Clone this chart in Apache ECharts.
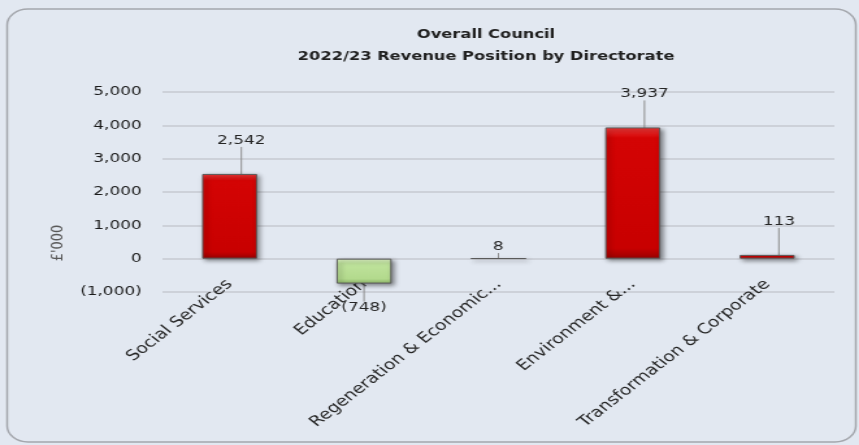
<!DOCTYPE html>
<html>
<head>
<meta charset="utf-8">
<script src="https://cdn.jsdelivr.net/npm/echarts@6/dist/echarts.min.js"></script>
<style>
  html, body { margin: 0; padding: 0; background: #e2e8f1; overflow: hidden; }
  /* the source picture is a stretched Excel chart, so draw narrow then stretch */
  #chart { width: 661px; height: 445px; transform: scaleX(1.2996); transform-origin: 0 0; }
</style>
</head>
<body>
<div id="chart"></div>
<script>
var categories = ['Social Services', 'Education', 'Regeneration & Economic...', 'Environment &...', 'Transformation & Corporate'];
var variance = [2542, -748, 8, 3937, 113];
var yTicks = { min: -1000, max: 5000, interval: 1000 };

var chartDom = document.getElementById('chart');
var myChart = echarts.init(chartDom);
var option;

function fmt(v) {
    var s = Math.abs(v).toString().replace(/\B(?=(\d{3})+(?!\d))/g, ',');
    return v < 0 ? '(' + s + ')' : s;
}

var redFill = new echarts.graphic.LinearGradient(0, 0, 0, 1, [
    { offset: 0, color: '#f03a3a' },
    { offset: 0.08, color: '#d40404' },
    { offset: 0.92, color: '#c80000' },
    { offset: 1, color: '#9a0000' }
]);
var greenFill = new echarts.graphic.LinearGradient(0, 0, 0, 1, [
    { offset: 0, color: '#dff5c6' },
    { offset: 0.2, color: '#bfe39c' },
    { offset: 0.8, color: '#b3da8d' },
    { offset: 1, color: '#8fb86a' }
]);

var barData = variance.map(function (v) {
    var item = {
        value: v,
        itemStyle: { color: v < 0 ? greenFill : redFill }
    };
    if (v < 0) {
        item.label = { position: 'bottom', distance: 18 };
    }
    return item;
});

option = {
    backgroundColor: '#e2e8f1',
    textStyle: { fontFamily: 'DejaVu Sans' },
    title: {
        text: 'Overall Council\n2022/23 Revenue Position by Directorate',
        left: 369,
        top: 19,
        textAlign: 'center',
        textStyle: { fontSize: 12.5, fontWeight: 'bold', color: '#1f1f1f', lineHeight: 22 }
    },
    graphic: [{
        type: 'rect',
        shape: { x: 5.5, y: 9, width: 653, height: 433, r: 16 },
        style: { fill: 'none', stroke: '#a4a7ad', lineWidth: 1.5 },
        z: -1
    }],
    grid: { left: 125, right: 19, top: 92, bottom: 153 },
    xAxis: {
        type: 'category',
        data: categories,
        axisLine: { show: false },
        axisTick: { show: false },
        axisLabel: { rotate: 45, margin: -10, fontSize: 14.5, color: '#262626', interval: 0 }
    },
    yAxis: {
        type: 'value',
        min: yTicks.min,
        max: yTicks.max,
        interval: yTicks.interval,
        name: "£'000",
        nameLocation: 'middle',
        nameGap: 59,
        nameTextStyle: { fontSize: 13, color: '#595959', padding: [0, 102, 0, 0] },
        axisLine: { show: false },
        axisTick: { show: false },
        axisLabel: { margin: 16, fontSize: 13, color: '#1a1a1a', formatter: fmt },
        splitLine: { lineStyle: { color: '#c6cad0', width: 1.5 } }
    },
    series: [{
        type: 'bar',
        data: barData,
        barWidth: '41%',
        itemStyle: {
            borderColor: '#5a5a5a',
            borderWidth: 1,
            shadowColor: 'rgba(0,0,0,0.45)',
            shadowBlur: 4,
            shadowOffsetX: 2,
            shadowOffsetY: 2
        },
        label: {
            show: true,
            position: 'top',
            distance: 5,
            fontSize: 13,
            color: '#262626',
            formatter: function (p) { return fmt(p.value); }
        },
        labelLine: { show: true, lineStyle: { color: '#8c8c8c', width: 1 } },
        labelLayout: function (p) {
            var v = variance[p.dataIndex];
            if (v > 100) return { dx: 9, dy: -22 };
            return {};
        }
    }]
};

option && myChart.setOption(option);
</script>
</body>
</html>
